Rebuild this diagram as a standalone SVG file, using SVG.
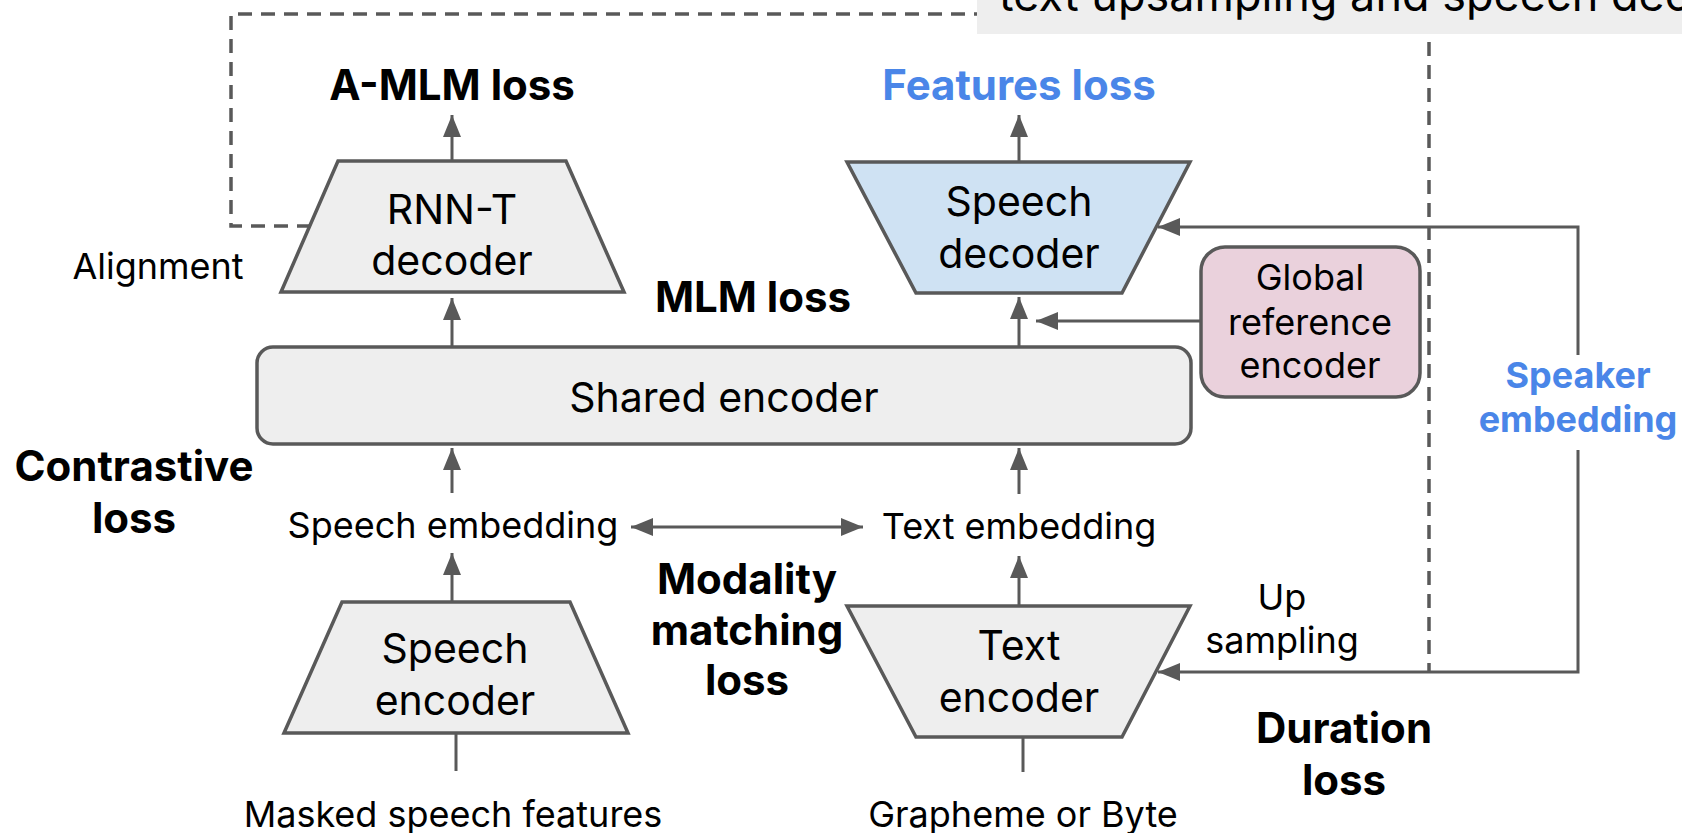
<svg xmlns="http://www.w3.org/2000/svg" width="1682" height="833" viewBox="0 0 1682 833">
<defs>
<style>
text{font-family:"Inter","Roboto","Liberation Sans",sans-serif;fill:#000;text-anchor:middle}
.b{font-weight:700;font-size:42px}
.blue{fill:#4a86e8}
.n40{font-size:41px}
.n36{font-size:36px}
.shape{stroke:#595959;stroke-width:3.5;stroke-linejoin:miter}
.gray{fill:#eeeeee}
.line{stroke:#595959;stroke-width:3;fill:none}
.dash{stroke:#595959;stroke-width:3.5;fill:none;stroke-dasharray:14 9}
</style>
<marker id="ah" markerUnits="userSpaceOnUse" markerWidth="24" markerHeight="20" refX="22" refY="9" orient="auto-start-reverse" viewBox="0 0 24 20">
<path d="M0,0 L22,9 L0,18 z" fill="#595959"/>
</marker>
</defs>
<rect width="1682" height="833" fill="#ffffff"/>

<g id="connectors">
<path class="dash" d="M311,226 H231 V14 H1429 V672"/>
<line class="line" x1="452" y1="161" x2="452" y2="115" marker-end="url(#ah)"/>
<line class="line" x1="1019" y1="162" x2="1019" y2="115" marker-end="url(#ah)"/>
<line class="line" x1="452" y1="347" x2="452" y2="298" marker-end="url(#ah)"/>
<line class="line" x1="1019" y1="347" x2="1019" y2="297" marker-end="url(#ah)"/>
<line class="line" x1="1201" y1="321" x2="1036" y2="321" marker-end="url(#ah)"/>
<path class="line" d="M1578,355 V227 H1158" marker-end="url(#ah)"/>
<path class="line" d="M1578,450 V672 H1158" marker-end="url(#ah)"/>
<line class="line" x1="452" y1="493" x2="452" y2="448" marker-end="url(#ah)"/>
<line class="line" x1="1019" y1="494" x2="1019" y2="448" marker-end="url(#ah)"/>
<line class="line" x1="452" y1="601" x2="452" y2="553" marker-end="url(#ah)"/>
<line class="line" x1="1019" y1="606" x2="1019" y2="556" marker-end="url(#ah)"/>
<line class="line" x1="631" y1="527" x2="863" y2="527" marker-start="url(#ah)" marker-end="url(#ah)"/>
<line class="line" x1="456" y1="733" x2="456" y2="771"/>
<line class="line" x1="1023" y1="737" x2="1023" y2="772"/>
</g>

<g id="caption">
<rect x="977" y="-10" width="720" height="44" fill="#eeeeee"/>
<text x="999" y="11" style="font-size:45px;text-anchor:start">text upsampling and speech dec</text>
</g>

<g id="a-mlm-loss"><text class="b" x="452" y="100">A-MLM loss</text></g>
<g id="features-loss"><text class="b blue" x="1019" y="100">Features loss</text></g>

<g id="rnnt-decoder">
<polygon class="shape gray" points="338,161 566,161 624,292 281,292"/>
<text class="n40" x="452" y="224">RNN-T</text>
<text class="n40" x="452" y="275">decoder</text>
</g>

<g id="speech-decoder">
<polygon class="shape" fill="#cfe2f3" points="847,162 1190,162 1122,293 916,293"/>
<text class="n40" x="1019" y="216">Speech</text>
<text class="n40" x="1019" y="268">decoder</text>
</g>

<g id="alignment"><text class="n36" x="158" y="279">Alignment</text></g>
<g id="mlm-loss"><text class="b" x="753" y="312">MLM loss</text></g>

<g id="global-reference-encoder">
<rect class="shape" x="1201" y="247" width="219" height="150" rx="24" fill="#ead1dc"/>
<text class="n36" x="1310" y="290">Global</text>
<text class="n36" x="1310" y="335">reference</text>
<text class="n36" x="1310" y="378">encoder</text>
</g>

<g id="shared-encoder">
<rect class="shape gray" x="257" y="347" width="934" height="97" rx="16"/>
<text class="n40" x="724" y="412">Shared encoder</text>
</g>

<g id="speaker-embedding">
<text class="b blue" style="font-size:36px" x="1578" y="388">Speaker</text>
<text class="b blue" style="font-size:36px" x="1578" y="432">embedding</text>
</g>

<g id="contrastive-loss">
<text class="b" x="134" y="481">Contrastive</text>
<text class="b" x="134" y="533">loss</text>
</g>

<g id="speech-embedding"><text class="n36" x="453" y="538">Speech embedding</text></g>
<g id="text-embedding"><text class="n36" x="1019" y="539">Text embedding</text></g>

<g id="modality-matching-loss">
<text class="b" x="747" y="594">Modality</text>
<text class="b" x="747" y="645">matching</text>
<text class="b" x="747" y="695">loss</text>
</g>

<g id="speech-encoder">
<polygon class="shape gray" points="342,602 570,602 628,733 284,733"/>
<text class="n40" x="455" y="663">Speech</text>
<text class="n40" x="455" y="715">encoder</text>
</g>

<g id="text-encoder">
<polygon class="shape gray" points="847,606 1190,606 1122,737 916,737"/>
<text class="n40" x="1019" y="660">Text</text>
<text class="n40" x="1019" y="712">encoder</text>
</g>

<g id="up-sampling">
<text class="n36" x="1282" y="610">Up</text>
<text class="n36" x="1282" y="653">sampling</text>
</g>

<g id="duration-loss">
<text class="b" x="1344" y="743">Duration</text>
<text class="b" x="1344" y="795">loss</text>
</g>

<g id="masked-speech-features"><text class="n36" x="453" y="827">Masked speech features</text></g>
<g id="grapheme-or-byte"><text class="n36" x="1023" y="827">Grapheme or Byte</text></g>
</svg>
